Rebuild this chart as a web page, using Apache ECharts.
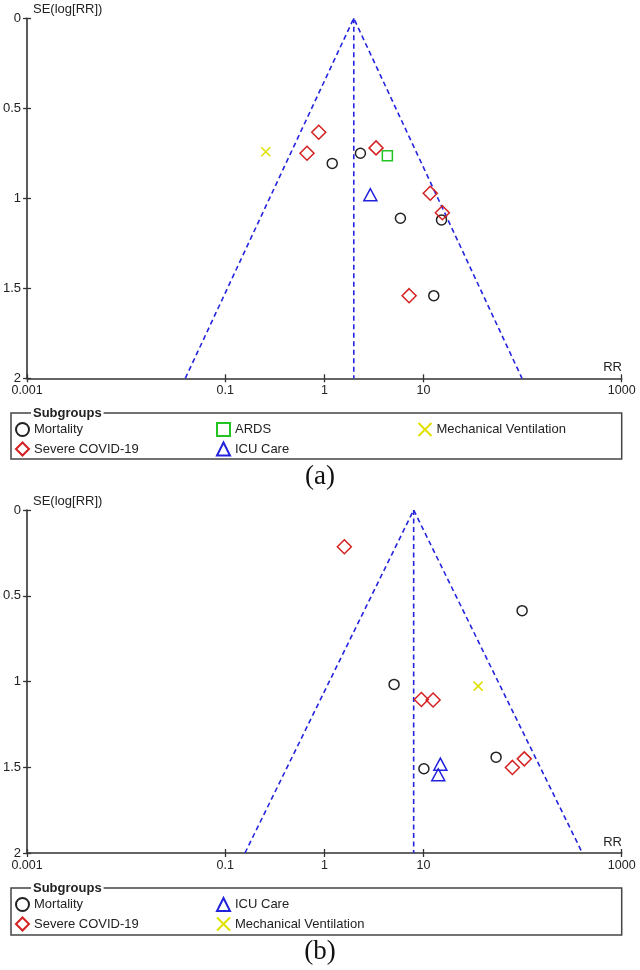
<!DOCTYPE html>
<html><head><meta charset="utf-8">
<script src="https://cdn.jsdelivr.net/npm/echarts@6/dist/echarts.min.js"></script>
<style>html,body{margin:0;padding:0;background:#fff}#c{width:640px;height:970px}</style>
</head><body><div id="c"></div>
<script>
// ---------- Panel (a) data: [RR, SE(log[RR])] ----------
const aMortality = [[1.2, 0.806], [2.31, 0.75], [5.85, 1.111], [15.2, 1.12], [12.7, 1.541]];
const aSevere = [[0.877, 0.633], [0.668, 0.75], [3.32, 0.72], [11.7, 0.972], [15.5, 1.08], [7.16, 1.541]];
const aARDS = [[4.32, 0.763]];
const aICU = [[2.91, 0.98]];
const aMechVent = [[0.256, 0.741]];
const aPooled = 1.98;
const aFunnelLow = 0.0395;   // lower funnel limit at SE = 2
const aFunnelHigh = 98.6;    // upper funnel limit at SE = 2

// ---------- Panel (b) data ----------
const bMortality = [[5.05, 1.017], [10.1, 1.509], [54, 1.441], [98.9, 0.587]];
const bSevere = [[1.59, 0.214], [9.52, 1.105], [12.5, 1.108], [104, 1.451], [78.9, 1.501]];
const bICU = [[14.8, 1.482], [14.1, 1.544]];
const bMechVent = [[35.6, 1.027]];
const bPooled = 7.96;
const bFunnelLow = 0.158;
const bFunnelHigh = 401;

// ---------- axes ----------
const xTickValues = [0.001, 0.1, 1, 10, 1000];
const yTickValues = [0, 0.5, 1, 1.5, 2];
const seMax = 2;

const FONT = 'Liberation Sans';
const AXIS_COLOR = '#333';
const FUNNEL_COLOR = '#2424e0';

const styles = {
  'Mortality': {symbol: 'circle', size: 10, color: '#222'},
  'Severe COVID-19': {symbol: 'diamond', size: 14, color: '#d42020'},
  'ARDS': {symbol: 'rect', size: 10, color: '#22c422'},
  'ICU Care': {symbol: 'triangle', size: [13, 12], color: '#2222dd'},
  'Mechanical Ventilation': {symbol: 'path://M0,0L10,10M10,0L0,10', size: 9, color: '#e0e000'}
};

function fmtX(v) {
  const r = xTickValues.find(t => Math.abs(t - v) / t < 1e-6);
  return r === undefined ? '' : String(r);
}

function xAxes(grid) {
  const base = {
    type: 'log', logBase: 10, min: 0.001, max: 1000, gridIndex: grid, position: 'bottom',
    splitLine: {show: false}
  };
  return [
    Object.assign({}, base, {
      axisLine: {show: true, onZero: false, lineStyle: {color: AXIS_COLOR, width: 1.6}},
      axisTick: {show: true, inside: false, length: 4, customValues: xTickValues, lineStyle: {color: AXIS_COLOR, width: 1.3}},
      axisLabel: {show: true, customValues: xTickValues, formatter: fmtX, margin: 6, fontFamily: FONT, fontSize: 12.5, color: '#222'}
    }),
    Object.assign({}, base, {
      axisLine: {show: false, onZero: false},
      axisTick: {show: true, inside: true, length: 4, customValues: xTickValues, lineStyle: {color: AXIS_COLOR, width: 1.3}},
      axisLabel: {show: false}
    })
  ];
}

function yAxes(grid) {
  const base = {
    type: 'value', inverse: true, min: 0, max: seMax, interval: 0.5, gridIndex: grid, position: 'left',
    splitLine: {show: false}
  };
  return [
    Object.assign({}, base, {
      axisLine: {show: true, onZero: false, lineStyle: {color: AXIS_COLOR, width: 1.6}},
      axisTick: {show: true, inside: false, length: 4, customValues: yTickValues, lineStyle: {color: AXIS_COLOR, width: 1.3}},
      axisLabel: {show: true, customValues: yTickValues, margin: 6, fontFamily: FONT, fontSize: 13, color: '#222'}
    }),
    Object.assign({}, base, {
      axisLine: {show: false, onZero: false},
      axisTick: {show: true, inside: true, length: 4, customValues: yTickValues, lineStyle: {color: AXIS_COLOR, width: 1.3}},
      axisLabel: {show: false}
    })
  ];
}

function scatter(name, data, axisIdx) {
  const s = styles[name];
  return {
    type: 'scatter', name: name, data: data, xAxisIndex: axisIdx, yAxisIndex: axisIdx,
    symbol: s.symbol, symbolSize: s.size, z: 5,
    itemStyle: {color: 'rgba(0,0,0,0)', borderColor: s.color, borderWidth: 1.5, opacity: 1},
    emphasis: {disabled: true}
  };
}

function funnel(low, pooled, high, axisIdx) {
  const ls = {color: FUNNEL_COLOR, width: 1.6, type: [5, 3.5]};
  return [
    {type: 'line', data: [[low, seMax], [pooled, 0], [high, seMax]], xAxisIndex: axisIdx, yAxisIndex: axisIdx,
     symbol: 'none', lineStyle: ls, z: 2, silent: true},
    {type: 'line', data: [[pooled, 0], [pooled, seMax]], xAxisIndex: axisIdx, yAxisIndex: axisIdx,
     symbol: 'none', lineStyle: ls, z: 2, silent: true}
  ];
}

function legend(left, top, names) {
  return {
    orient: 'vertical', left: left, top: top, itemWidth: 13, itemHeight: 13, itemGap: 4.5,
    padding: 0, selectedMode: false,
    textStyle: {fontFamily: FONT, fontSize: 13, color: '#222', lineHeight: 13},
    data: names
  };
}

function panelGraphics(axisTop, axisBottom, boxTop, boxH, caption, capY) {
  return [
    {type: 'text', left: 33, top: axisTop - 15, style: {text: 'SE(log[RR])', font: '13px "' + FONT + '"', fill: '#222'}},
    {type: 'text', right: 18, top: axisBottom - 17, style: {text: 'RR', font: '13px "' + FONT + '"', fill: '#222'}},
    {type: 'rect', shape: {x: 11, y: boxTop, width: 610.7, height: boxH},
     style: {fill: 'none', stroke: '#444', lineWidth: 1.5}, z: 1},
    {type: 'text', x: 31, y: boxTop, z: 10,
     style: {text: 'Subgroups', font: 'bold 13px "' + FONT + '"', fill: '#222', verticalAlign: 'middle',
             backgroundColor: '#fff', padding: [0, 2]}},
    {type: 'text', x: 320, y: capY, style: {text: caption, font: '27px "Liberation Serif"', fill: '#111',
             align: 'center', verticalAlign: 'middle'}}
  ];
}

const chart = echarts.init(document.getElementById('c'), null, {renderer: 'canvas'});
chart.setOption({
  animation: false,
  backgroundColor: '#fff',
  grid: [
    {left: 26.7, top: 18.3, width: 595, height: 360},
    {left: 26.7, top: 510, width: 595, height: 343}
  ],
  xAxis: xAxes(0).concat(xAxes(1)),
  yAxis: yAxes(0).concat(yAxes(1)),
  legend: [
    legend(15, 422, ['Mortality', 'Severe COVID-19']),
    legend(216, 422, ['ARDS', 'ICU Care']),
    legend(417.5, 422, ['Mechanical Ventilation']),
    legend(15, 897, ['Mortality', 'Severe COVID-19']),
    legend(216, 897, ['ICU Care', 'Mechanical Ventilation'])
  ],
  graphic: panelGraphics(18.3, 378.3, 413, 46, '(a)', 477)
    .concat(panelGraphics(510, 853, 888, 47, '(b)', 952)),
  series: [].concat(
    funnel(aFunnelLow, aPooled, aFunnelHigh, 0),
    [scatter('Mortality', aMortality, 0), scatter('Severe COVID-19', aSevere, 0), scatter('ARDS', aARDS, 0),
     scatter('ICU Care', aICU, 0), scatter('Mechanical Ventilation', aMechVent, 0)],
    funnel(bFunnelLow, bPooled, bFunnelHigh, 2),
    [scatter('Mortality', bMortality, 2), scatter('Severe COVID-19', bSevere, 2),
     scatter('ICU Care', bICU, 2), scatter('Mechanical Ventilation', bMechVent, 2)]
  )
});
</script></body></html>
